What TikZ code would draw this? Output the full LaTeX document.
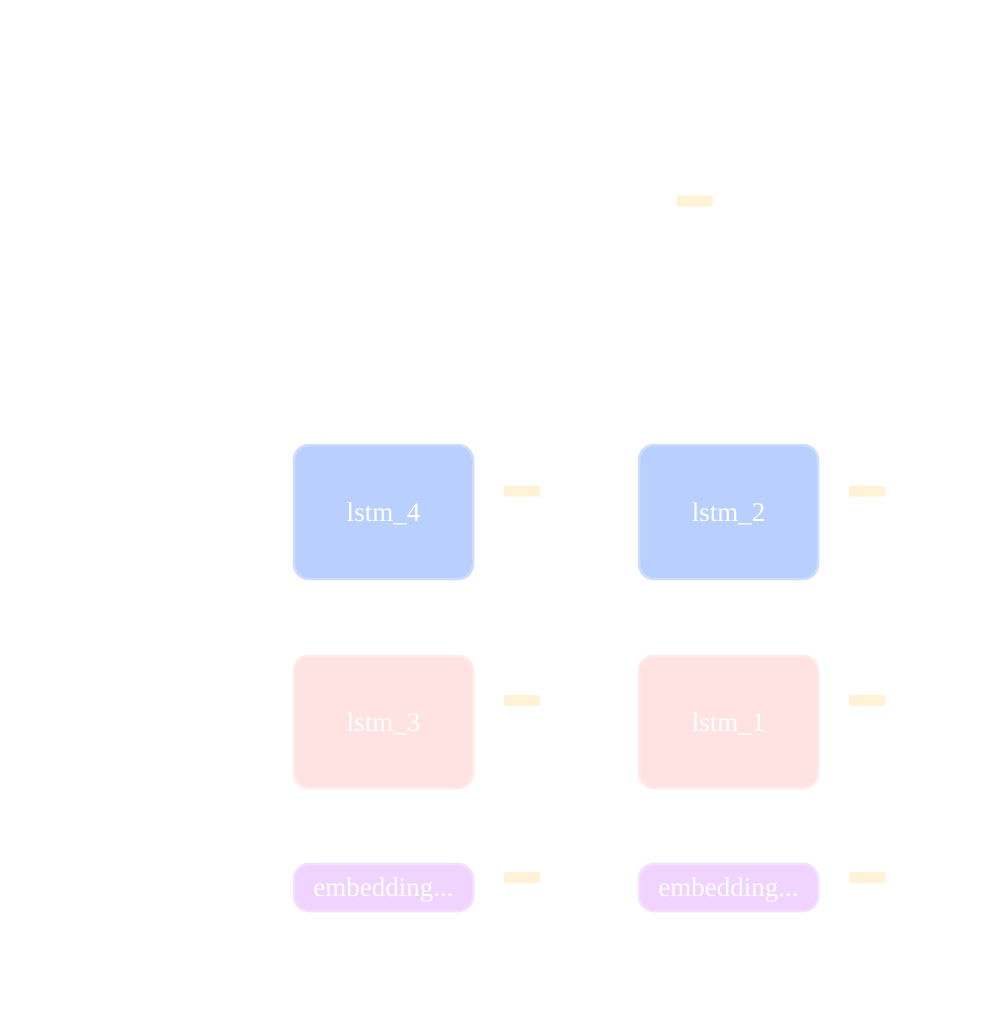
\documentclass[tikz,border=0pt]{standalone}
\usepackage{fontspec}
\setmainfont{Liberation Serif}
\usepackage{xcolor}
\usetikzlibrary{positioning, calc}
\definecolor{lstmblue}{RGB}{185, 207, 254}
\definecolor{lstmblueline}{RGB}{204, 220, 254}
\definecolor{lstmpink}{RGB}{255, 227, 227}
\definecolor{lstmpinkline}{RGB}{255, 234, 234}
\definecolor{embpurple}{RGB}{240, 211, 254}
\definecolor{embpurpleline}{RGB}{244, 224, 254}
\definecolor{tabyellow}{RGB}{255, 242, 214}

\begin{document}
\begin{tikzpicture}[x=1pt, y=-1pt,
        layerbox/.style={rounded corners=15pt, line width=2.5pt, minimum width=179pt,
            text=white, font=\fontsize{27}{31}\selectfont, inner sep=0pt, text depth=0pt},
        upperbox/.style={layerbox, fill=lstmblue, draw=lstmblueline, minimum height=134pt},
        lowerbox/.style={layerbox, fill=lstmpink, draw=lstmpinkline, minimum height=132pt},
        embbox/.style={layerbox, fill=embpurple, draw=embpurpleline, minimum height=47pt},
        shapetab/.style={fill=tabyellow, rounded corners=2pt, minimum width=36pt, minimum height=11pt, inner sep=0pt}]
    \useasboundingbox (0,0) rectangle (991,1014);
    % output tab
    \node[shapetab] (outtab) at (694.5,201) {};
    % backward / forward stacks
    \node[upperbox] (lstm4) at (383.5,512) {lstm\_4};
    \node[upperbox] (lstm2) at (728.5,512) {lstm\_2};
    \node[lowerbox] (lstm3) at (383.5,722) {lstm\_3};
    \node[lowerbox] (lstm1) at (728.5,722) {lstm\_1};
    \node[embbox] (embleft) at (383.5,887.5) {embedding...};
    \node[embbox] (embright) at (728.5,887.5) {embedding...};
    % shape tabs next to each layer
    \node[shapetab] (tab4) at (522,491) {};
    \node[shapetab] (tab2) at (867,491) {};
    \node[shapetab] (tab3) at (522,700.5) {};
    \node[shapetab] (tab1) at (867,700.5) {};
    \node[shapetab] (tabembl) at (522,877.5) {};
    \node[shapetab] (tabembr) at (867,877.5) {};
\end{tikzpicture}
\end{document}
